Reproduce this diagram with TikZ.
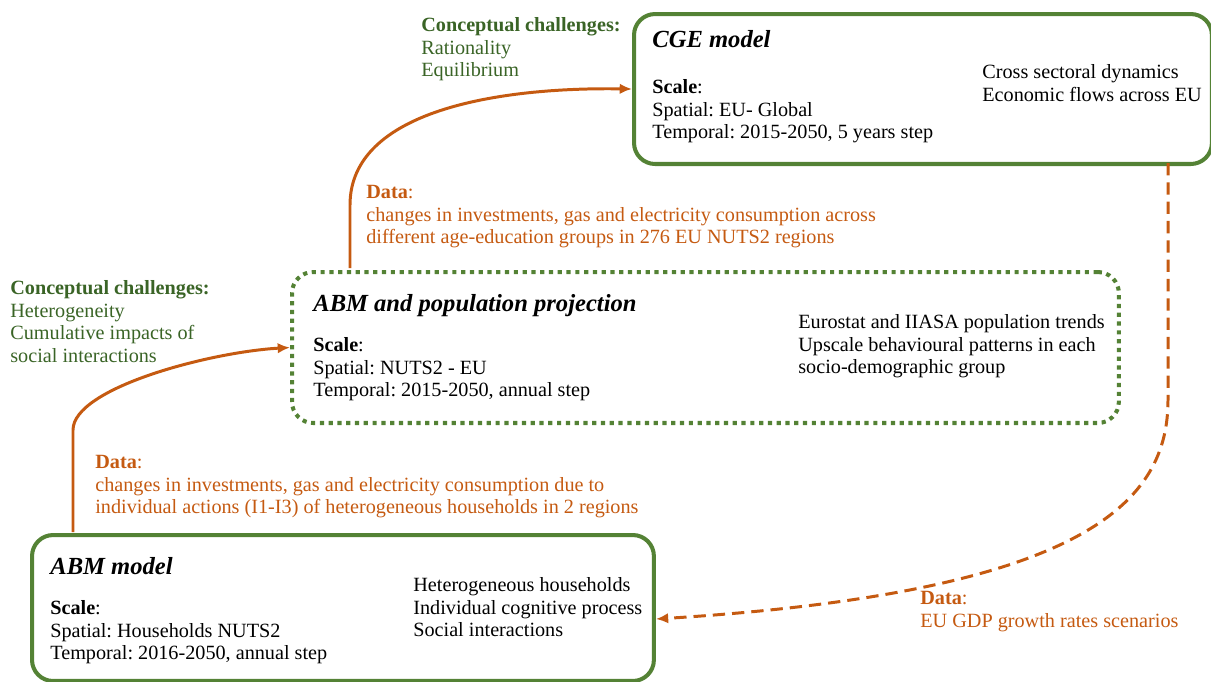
\documentclass[tikz,border=0pt]{standalone}
\usepackage{fontspec}
\setmainfont{Liberation Serif}
\usetikzlibrary{arrows.meta}
\definecolor{boxgreen}{HTML}{548235}
\definecolor{txtgreen}{HTML}{3A6426}
\definecolor{flowor}{HTML}{C55A11}
\tikzset{
	box/.style={draw=boxgreen, line width=2.3pt, rounded corners=12pt, anchor=north west, inner sep=0pt},
	dotbox/.style={box, dash pattern=on 2.4pt off 2.6pt},
	txt/.style={anchor=north west, align=left, inner sep=0pt, font=\fontsize{11.5pt}{12.9pt}\selectfont},
	ttl/.style={anchor=base west, inner sep=0pt, font=\fontsize{14pt}{16pt}\selectfont\bfseries\itshape},
	chal/.style={txt, text=txtgreen},
	datatxt/.style={txt, text=flowor},
	flow/.style={draw=flowor, line width=1.7pt, -{Latex[length=7pt,width=6pt]}},
	dflow/.style={flow, dash pattern=on 7pt off 4pt}
}
\frenchspacing
\begin{document}
\begin{tikzpicture}[x=0.02cm, y=-0.02cm]
			%%%%% START %%%%%
			\useasboundingbox (0, 0) rectangle (1211, 681);
			
			\node[box, minimum width=11.56cm, minimum height=3cm] (cge) at (632, 12) {};
			\node[dotbox, minimum width=16.54cm, minimum height=3.02cm] (mid) at (290, 270) {};
			\node[box, minimum width=12.44cm, minimum height=2.92cm] (abm) at (30, 533) {};
			
			\node[ttl] (cgettl) at (652, 47) {CGE model};
			\node[txt] (cgescale) at (652, 79) {\textbf{Scale}:\\Spatial: EU- Global\\Temporal: 2015-2050, 5 years step};
			\node[txt] (cgeinfo) at (982, 64) {Cross sectoral dynamics\\Economic flows across EU};
			
			\node[ttl] (midttl) at (313, 311) {ABM and population projection};
			\node[txt] (midscale) at (313, 337) {\textbf{Scale}:\\Spatial: NUTS2 - EU\\Temporal: 2015-2050, annual step};
			\node[txt] (midinfo) at (798, 314) {Eurostat and IIASA population trends\\Upscale behavioural patterns in each\\socio-demographic group};
			
			\node[ttl] (abmttl) at (50, 574) {ABM model};
			\node[txt] (abmscale) at (50, 600) {\textbf{Scale}:\\Spatial: Households NUTS2\\Temporal: 2016-2050, annual step};
			\node[txt] (abminfo) at (413, 577) {Heterogeneous households\\Individual cognitive process\\Social interactions};
			
			\node[chal] (chaltop) at (421, 17) {\textbf{Conceptual challenges:}\\Rationality\\Equilibrium};
			\node[chal] (challeft) at (10, 280) {\textbf{Conceptual challenges:}\\Heterogeneity\\Cumulative impacts of\\social interactions};
			
			\node[datatxt] (datatop) at (366, 185) {\textbf{Data}:\\changes in investments, gas and electricity consumption across\\different age-education groups in 276 EU NUTS2 regions};
			\node[datatxt] (dataleft) at (95, 455) {\textbf{Data}:\\changes in investments, gas and electricity consumption due to\\individual actions (I1-I3) of heterogeneous households in 2 regions};
			\node[datatxt] (dataright) at (920, 591) {\textbf{Data}:\\EU GDP growth rates scenarios};
			
			\coordinate (upa) at (350, 268);
			\coordinate (upb) at (73, 532);
			\coordinate (dnc) at (1168, 163);
			
			\draw[flow] (upa) -- (350, 205) .. controls (350, 110) and (500, 87) .. (cge.west);
			\draw[flow] (upb) -- (73, 430) .. controls (73, 388) and (210, 352) .. (mid.west);
			\draw[dflow] (dnc) -- (1168, 400) .. controls (1168, 500) and (1090, 592) .. ([yshift=-0.22cm]abm.east);
			
			%%%%% END %%%%%
		\end{tikzpicture}
\end{document}
